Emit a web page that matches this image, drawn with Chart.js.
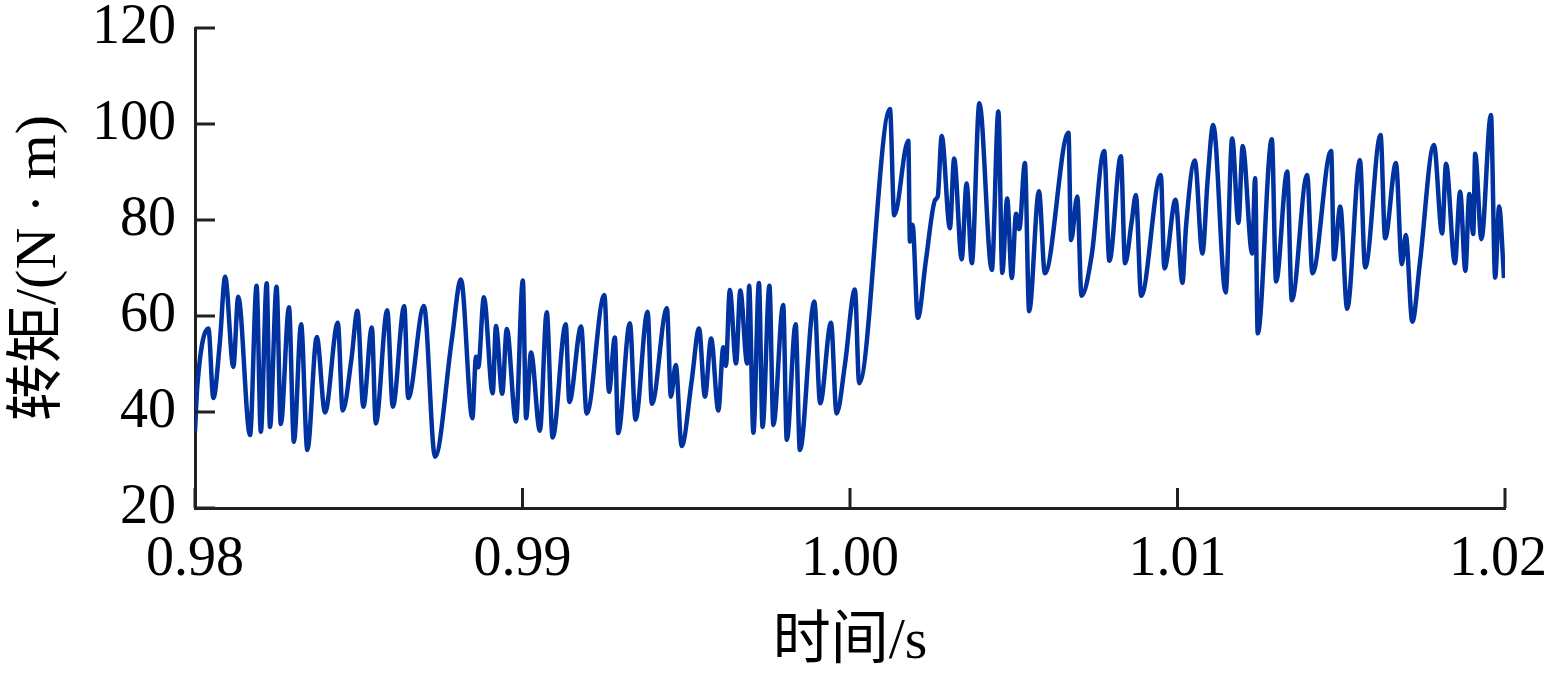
<!DOCTYPE html>
<html lang="zh">
  <head>
    <meta charset="UTF-8" />
    <script src="https://cdn.jsdelivr.net/npm/chart.js"></script>
    <title>转矩</title>
  </head>
  <body style="margin: 0; background: #fff">
    <div style="width: 1549px; height: 685px; position: relative">
      <canvas id="torque"></canvas>
    </div>
    <script>
      const time = [
        0.98000, 0.98007, 0.98041, 0.98056, 0.98076, 0.98092, 0.98117, 0.98132, 0.98168, 0.98188,
        0.98201, 0.98219, 0.98229, 0.98249, 0.98262, 0.98287, 0.98302, 0.98324, 0.98343, 0.98372,
        0.98397, 0.98436, 0.98451, 0.98478, 0.98496, 0.98514, 0.98540, 0.98552, 0.98587, 0.98604,
        0.98639, 0.98651, 0.98699, 0.98733, 0.98784, 0.98812, 0.98847, 0.98858, 0.98865, 0.98882,
        0.98909, 0.98919, 0.98938, 0.98952, 0.98980, 0.99001, 0.99011, 0.99026, 0.99053, 0.99074,
        0.99092, 0.99132, 0.99143, 0.99179, 0.99196, 0.99250, 0.99264, 0.99282, 0.99292, 0.99328,
        0.99345, 0.99382, 0.99395, 0.99441, 0.99453, 0.99468, 0.99486, 0.99517, 0.99539, 0.99557,
        0.99576, 0.99598, 0.99613, 0.99621, 0.99633, 0.99652, 0.99665, 0.99686, 0.99692, 0.99705,
        0.99722, 0.99733, 0.99754, 0.99766, 0.99796, 0.99807, 0.99834, 0.99847, 0.99891, 0.99909,
        0.99942, 0.99959, 0.99985, 1.00015, 1.00028, 1.00122, 1.00135, 1.00178, 1.00183, 1.00191,
        1.00207, 1.00232, 1.00260, 1.00268, 1.00280, 1.00305, 1.00318, 1.00341, 1.00356, 1.00372,
        1.00395, 1.00433, 1.00453, 1.00465, 1.00480, 1.00494, 1.00507, 1.00517, 1.00534, 1.00547,
        1.00577, 1.00595, 1.00667, 1.00675, 1.00694, 1.00707, 1.00738, 1.00776, 1.00792, 1.00827,
        1.00840, 1.00860, 1.00873, 1.00889, 1.00949, 1.00960, 1.00994, 1.01015, 1.01026, 1.01053,
        1.01076, 1.01092, 1.01109, 1.01147, 1.01167, 1.01186, 1.01199, 1.01228, 1.01237, 1.01245,
        1.01288, 1.01301, 1.01335, 1.01349, 1.01396, 1.01412, 1.01469, 1.01478, 1.01497, 1.01518,
        1.01557, 1.01573, 1.01620, 1.01634, 1.01667, 1.01685, 1.01697, 1.01717, 1.01740, 1.01783,
        1.01808, 1.01820, 1.01847, 1.01863, 1.01879, 1.01891, 1.01903, 1.01909, 1.01928, 1.01957,
        1.01970, 1.01982, 1.01997
      ];
      const torque = [
        36.0, 45.3, 57.4, 42.9, 54.6, 68.2, 49.4, 64.0, 35.2, 66.3,
        35.9, 66.8, 36.9, 66.1, 37.5, 61.8, 33.8, 58.3, 32.1, 55.6,
        39.9, 58.6, 40.3, 51.2, 61.1, 41.1, 57.6, 37.6, 61.2, 41.1,
        62.1, 42.9, 62.1, 30.7, 55.0, 67.6, 38.7, 51.5, 49.3, 63.9,
        43.9, 57.9, 43.8, 57.3, 38.0, 67.4, 38.7, 52.4, 36.1, 60.8,
        34.7, 58.3, 42.1, 57.8, 39.7, 64.4, 44.2, 55.5, 35.6, 58.5,
        38.4, 60.9, 41.7, 61.6, 43.2, 49.8, 32.9, 46.7, 57.4, 43.2,
        55.3, 40.3, 53.5, 49.6, 65.4, 50.1, 65.3, 50.1, 66.3, 35.7,
        66.9, 36.9, 66.3, 37.3, 62.3, 34.2, 58.3, 32.1, 63.0, 41.8,
        58.6, 39.7, 50.1, 65.5, 46.0, 103.1, 81.0, 96.5, 75.5, 79.0,
        59.6, 71.7, 84.2, 84.9, 97.5, 78.3, 92.8, 71.8, 87.6, 71.0,
        104.3, 69.6, 102.6, 69.0, 84.5, 67.9, 81.3, 78.1, 91.9, 61.0,
        86.0, 68.9, 98.2, 75.8, 84.9, 64.2, 72.7, 94.4, 71.5, 93.3,
        71.0, 79.6, 85.2, 64.2, 89.4, 69.9, 84.2, 66.9, 78.6, 92.4,
        73.0, 88.3, 99.8, 64.9, 97.0, 79.4, 95.4, 73.0, 88.7, 56.4,
        96.8, 67.2, 90.1, 63.3, 89.4, 68.9, 94.4, 71.8, 82.8, 61.5,
        92.5, 70.1, 97.7, 76.2, 91.9, 70.8, 76.9, 58.8, 71.0, 95.6,
        77.2, 91.7, 71.0, 85.9, 69.4, 85.4, 77.1, 93.8, 76.0, 101.9,
        68.0, 82.8, 67.9
      ];
      const xTicks = [0.98, 0.99, 1.00, 1.01, 1.02];
      const yTicks = [20, 40, 60, 80, 100, 120];

      const axisColor = '#231f20';
      const fontFamily = "'Liberation Serif', 'Noto Sans CJK SC', serif";

      // matlab style ticks pointing into the plot
      const inwardTicks = {
        id: 'inwardTicks',
        afterDraw(chart) {
          const ctx = chart.ctx;
          const x = chart.scales.x, y = chart.scales.y;
          const len = 20;
          ctx.save();
          ctx.strokeStyle = axisColor;
          ctx.lineWidth = 3;
          ctx.beginPath();
          xTicks.forEach(v => {
            const px = x.getPixelForValue(v);
            ctx.moveTo(px, y.bottom);
            ctx.lineTo(px, y.bottom - len);
          });
          yTicks.forEach(v => {
            const py = y.getPixelForValue(v);
            ctx.moveTo(x.left, py);
            ctx.lineTo(x.left + len, py);
          });
          ctx.stroke();
          ctx.restore();
        }
      };

      // keep the plot box where the reference has it, ignore label overhang
      const noPad = s => {
        s.paddingTop = 0;
        s.paddingBottom = 0;
        s.paddingLeft = 0;
        s.paddingRight = 0;
      };

      new Chart(document.getElementById('torque'), {
        type: 'line',
        data: {
          datasets: [{
            data: time.map((t, i) => ({ x: t, y: torque[i] })),
            borderColor: '#0033a0',
            borderWidth: 4.5,
            pointRadius: 0,
            cubicInterpolationMode: 'monotone',
            fill: false
          }]
        },
        options: {
          responsive: true,
          maintainAspectRatio: false,
          animation: false,
          layout: { padding: { top: 28, right: 44, left: 0, bottom: 0 } },
          plugins: { legend: { display: false }, tooltip: { enabled: false } },
          scales: {
            x: {
              type: 'linear',
              min: 0.98,
              max: 1.02,
              afterBuildTicks: s => { s.ticks = xTicks.map(v => ({ value: v })); },
              afterFit: s => { s.height = 177; noPad(s); },
              grid: { display: false },
              border: { display: true, color: axisColor, width: 3 },
              ticks: {
                color: '#000',
                padding: 11,
                maxRotation: 0,
                autoSkip: false,
                font: { family: fontFamily, size: 56 },
                callback: (v, i) => v.toFixed(2) + (i === xTicks.length - 1 ? ' ' : '')
              },
              title: {
                display: true,
                text: '时间/s',
                color: '#000',
                padding: { top: 0, bottom: 7 },
                font: { family: fontFamily, size: 58 }
              }
            },
            y: {
              min: 20,
              max: 120,
              afterBuildTicks: s => { s.ticks = yTicks.map(v => ({ value: v })); },
              afterFit: s => { s.width = 195; noPad(s); },
              grid: { display: false },
              border: { display: true, color: axisColor, width: 3 },
              ticks: {
                color: '#000',
                padding: 11,
                font: { family: fontFamily, size: 56 }
              },
              title: {
                display: true,
                text: '转矩/(N · m)',
                color: '#000',
                padding: { top: 5, bottom: 0 },
                font: { family: fontFamily, size: 58 }
              }
            }
          }
        },
        plugins: [inwardTicks]
      });
    </script>
  </body>
</html>
